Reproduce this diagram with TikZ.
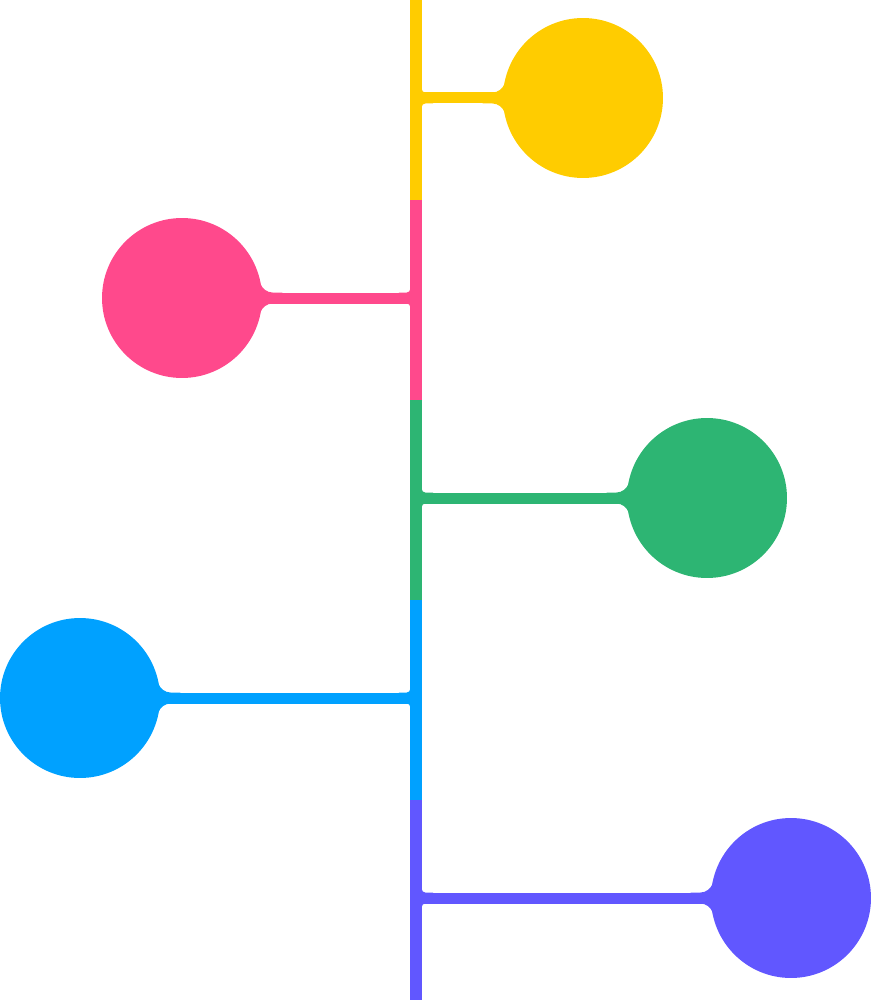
\documentclass[tikz,border=0pt]{standalone}
\usetikzlibrary{calc}
\definecolor{cyel}{HTML}{FFCC00}
\definecolor{cpnk}{HTML}{FF498C}
\definecolor{cgrn}{HTML}{2DB573}
\definecolor{cblu}{HTML}{00A1FF}
\definecolor{cprp}{HTML}{6157FF}
\begin{document}
\begin{tikzpicture}[x=0.02cm, y=-0.02cm,
  dot/.style={circle, inner sep=0pt, minimum size=3.2cm, fill},
  trunk/.style={line width=0.23cm},
  branch/.style={line width=0.22cm}]
\useasboundingbox (0,0) rectangle (871,1000);
% trunk
\coordinate (tr0) at (416,0);
\coordinate (tr1) at (416,200);
\coordinate (tr2) at (416,400);
\coordinate (tr3) at (416,600);
\coordinate (tr4) at (416,800);
\coordinate (tr5) at (416,1000);
\draw[trunk, cyel] (tr0) -- (tr1);
\draw[trunk, cpnk] (tr1) -- (tr2);
\draw[trunk, cgrn] (tr2) -- (tr3);
\draw[trunk, cblu] (tr3) -- (tr4);
\draw[trunk, cprp] (tr4) -- (tr5);
% circles
\node[dot, cyel] (cir0) at (583,98){};
\node[dot, cpnk] (cir1) at (182,298){};
\node[dot, cgrn] (cir2) at (707,498){};
\node[dot, cblu] (cir3) at (80,698){};
\node[dot, cprp] (cir4) at (791,898){};
% branches
\coordinate (br0) at (416,98);
\coordinate (br1) at (416,298);
\coordinate (br2) at (416,498);
\coordinate (br3) at (416,698);
\coordinate (br4) at (416,898);
\draw[branch, cyel] (br0) -- (cir0);
\draw[branch, cpnk] (br1) -- (cir1);
\draw[branch, cgrn] (br2) -- (cir2);
\draw[branch, cblu] (br3) -- (cir3);
\draw[branch, cprp] (br4) -- (cir4);
% fillets
\foreach \s in {1,-1}{
\fill[cyel, shift={(cir0.west)}, yscale=\s] (-20,-5.5) [rounded corners=0.18cm] -- (-1,-5.5) -- (7,-30) -- (20,0) [sharp corners] -- (-20,0) -- cycle;
\fill[cpnk, shift={(cir1.east)}, xscale=-1, yscale=\s] (-20,-5.5) [rounded corners=0.18cm] -- (-1,-5.5) -- (7,-30) -- (20,0) [sharp corners] -- (-20,0) -- cycle;
\fill[cgrn, shift={(cir2.west)}, yscale=\s] (-20,-5.5) [rounded corners=0.18cm] -- (-1,-5.5) -- (7,-30) -- (20,0) [sharp corners] -- (-20,0) -- cycle;
\fill[cblu, shift={(cir3.east)}, xscale=-1, yscale=\s] (-20,-5.5) [rounded corners=0.18cm] -- (-1,-5.5) -- (7,-30) -- (20,0) [sharp corners] -- (-20,0) -- cycle;
\fill[cprp, shift={(cir4.west)}, yscale=\s] (-20,-5.5) [rounded corners=0.18cm] -- (-1,-5.5) -- (7,-30) -- (20,0) [sharp corners] -- (-20,0) -- cycle;
\fill[cyel, shift={($(br0)+(5.75,0)$)}, yscale=\s] (-4,-14) -- (0,-14) [rounded corners=0.07cm] -- (0,-5.5) -- (14,-5.5) [sharp corners] -- (14,0) -- (-4,0) -- cycle;
\fill[cpnk, shift={($(br1)+(-5.75,0)$)}, xscale=-1, yscale=\s] (-4,-14) -- (0,-14) [rounded corners=0.07cm] -- (0,-5.5) -- (14,-5.5) [sharp corners] -- (14,0) -- (-4,0) -- cycle;
\fill[cgrn, shift={($(br2)+(5.75,0)$)}, yscale=\s] (-4,-14) -- (0,-14) [rounded corners=0.07cm] -- (0,-5.5) -- (14,-5.5) [sharp corners] -- (14,0) -- (-4,0) -- cycle;
\fill[cblu, shift={($(br3)+(-5.75,0)$)}, xscale=-1, yscale=\s] (-4,-14) -- (0,-14) [rounded corners=0.07cm] -- (0,-5.5) -- (14,-5.5) [sharp corners] -- (14,0) -- (-4,0) -- cycle;
\fill[cprp, shift={($(br4)+(5.75,0)$)}, yscale=\s] (-4,-14) -- (0,-14) [rounded corners=0.07cm] -- (0,-5.5) -- (14,-5.5) [sharp corners] -- (14,0) -- (-4,0) -- cycle;
}
\end{tikzpicture}
\end{document}
